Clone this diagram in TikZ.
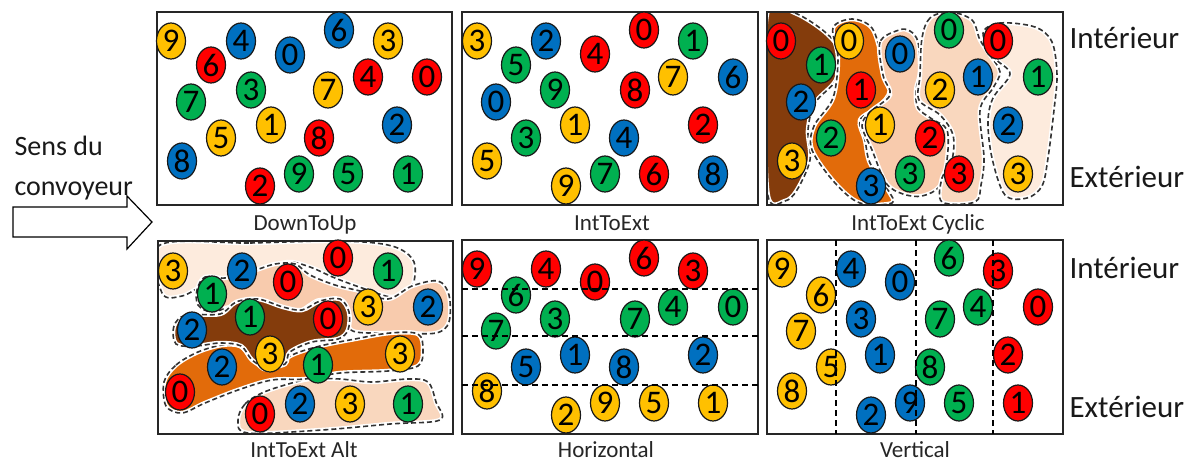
\documentclass[tikz,border=0pt]{standalone}
\usepackage{fontspec}
\setmainfont{Carlito}
\usetikzlibrary{shapes.geometric}
\definecolor{cR}{HTML}{FF0000}
\definecolor{cG}{HTML}{00B050}
\definecolor{cB}{HTML}{0070C0}
\definecolor{cY}{HTML}{FFC000}
\definecolor{rDark}{HTML}{843C0C}
\definecolor{rOrange}{HTML}{E26B0A}
\definecolor{rPeach}{HTML}{F8CBAD}
\definecolor{rLight}{HTML}{F9D7BE}
\definecolor{rPale}{HTML}{FDEBDD}
\newcommand\myregion[2]{%
  \path[fill=#1, draw=white, line width=4.5pt] plot[smooth cycle, tension=0.55] coordinates {#2};
  \draw[regline] plot[smooth cycle, tension=0.55] coordinates {#2};}
\newcommand\myballs[2]{%
  \foreach \px/\py/\col/\dig [count=\i] in {#2}
    \node[ball, fill=c\col] (#1-\i) at (\px,\py) {\dig};}
\begin{document}
\begin{tikzpicture}[x=1pt,y=-1pt,
  ball/.style={ellipse, draw=black!90, line width=1.2pt, minimum width=29, minimum height=36, inner sep=0pt, font=\fontsize{33}{33}\selectfont},
  panel/.style={draw=black!85, line width=1.6pt},
  regline/.style={draw=black!80, line width=1.6pt, dash pattern=on 5pt off 3pt},
  sep/.style={draw=black, line width=1.3pt, dash pattern=on 6pt off 4pt},
  plabel/.style={anchor=base, font=\fontsize{23}{23}\selectfont, text=black!85},
  side/.style={anchor=base west, font=\fontsize{31}{31}\selectfont, text=black!90},
  conv/.style={anchor=base west, font=\fontsize{28}{28}\selectfont, text=black!90}]
\useasboundingbox (0,0) rectangle (1189,461);

% conveyor text and arrow
\node[conv] (t1) at (11,155) {Sens du};
\node[conv] (t2) at (11,195) {convoyeur};
\draw[line width=1.2pt, fill=white] (13,207) -- (127,207) -- (127,196) -- (152,222) -- (127,249) -- (127,237) -- (13,237) -- cycle;

% side labels
\node[side] (i1) at (1066,48) {Intérieur};
\node[side] (e1) at (1066,187) {Extérieur};
\node[side] (i2) at (1066,278) {Intérieur};
\node[side] (e2) at (1066,417) {Extérieur};

% ---------- Panel 1: DownToUp
\draw[panel] (157,12) rectangle (452,205);
\myballs{a}{171/41/Y/9, 211/65/R/6, 241/41/B/4, 290/55/B/0, 339/30/B/6, 388/41/Y/3, 191/102/G/7, 251/90/G/3, 328/90/Y/7, 368/77/R/4, 427/77/R/0, 221/138/Y/5, 271/125/Y/1, 319/138/R/8, 397/125/B/2, 182/161/B/8, 260/186/R/2, 299/174/G/9, 348/174/G/5, 408/174/G/1}
\node[plabel] (l1) at (305,230) {DownToUp};

% ---------- Panel 2: IntToExt
\draw[panel] (462,12) rectangle (758,205);
\myballs{b}{477/41/Y/3, 546/41/B/2, 595/54/R/4, 644/30/R/0, 693/41/G/1, 516/65/G/5, 555/90/G/9, 635/90/R/8, 673/77/Y/7, 733/77/B/6, 496/102/B/0, 575/125/Y/1, 624/138/B/4, 703/125/R/2, 526/138/G/3, 487/161/Y/5, 566/186/Y/9, 605/174/G/7, 654/174/R/6, 713/174/B/8}
\node[plabel] (l2) at (612,230) {IntToExt};

% ---------- Panel 3: IntToExt Cyclic
\begin{scope}
\clip (767,12) rectangle (1063,205);
\myregion{rDark}{(768,10) (795,13) (825,32) (840,52) (836,80) (815,103) (808,130) (810,160) (797,190) (785,201) (768,196) (765,100)}
\myregion{rOrange}{(852,19) (833,28) (838,58) (833,98) (814,126) (812,150) (835,183) (860,203) (892,203) (888,190) (870,163) (865,140) (860,120) (878,107) (890,90) (882,58) (872,28)}
\myregion{rPeach}{(899,30) (880,42) (883,75) (890,95) (870,112) (862,126) (872,150) (886,183) (903,194) (922,196) (940,186) (947,160) (947,130) (932,119) (918,108) (916,90) (920,72) (918,42) (910,31)}
\myregion{rLight}{(950,12) (930,18) (922,38) (920,75) (919,100) (940,115) (953,135) (952,160) (942,178) (942,202) (975,202) (981,185) (984,158) (980,110) (993,88) (1000,72) (990,55) (980,40) (972,20)}
\myregion{rPale}{(1000,23) (983,33) (995,58) (1010,74) (993,98) (988,122) (992,158) (1005,195) (1027,198) (1042,186) (1048,158) (1054,110) (1057,75) (1052,42) (1035,27)}
\end{scope}
\draw[panel] (767,12) rectangle (1063,205);
\myballs{c}{781/41/R/0, 821/65/G/1, 801/102/B/2, 792/161/Y/3, 849/41/Y/0, 861/90/R/1, 831/138/G/2, 871/186/B/3, 900/54/B/0, 880/125/Y/1, 930/138/R/2, 910/174/G/3, 949/30/G/0, 940/90/Y/2, 978/77/B/1, 959/174/R/3, 998/41/R/0, 1038/77/G/1, 1008/125/B/2, 1018/174/Y/3}
\node[plabel] (l3) at (918,230) {IntToExt Cyclic};

% ---------- Panel 4: IntToExt Alt
\begin{scope}
\clip (158,241) rectangle (453,434);
\myregion{rPale}{(160,245) (250,243) (340,241) (392,246) (414,262) (411,290) (392,297) (365,289) (335,278) (310,267) (288,262) (262,270) (235,279) (205,285) (182,296) (162,293)}
\myregion{rPeach}{(197,290) (205,277) (225,278) (250,272) (275,264) (295,264) (310,275) (335,285) (360,291) (388,299) (412,286) (438,281) (449,295) (449,322) (436,333) (400,333) (356,332) (346,322) (340,308) (320,300) (295,313) (262,309) (235,306) (212,312) (198,305)}
\myregion{rLight}{(238,420) (245,404) (262,393) (285,385) (310,379) (340,379) (372,382) (408,379) (428,382) (436,402) (440,420) (390,424) (322,430) (248,433)}
\myregion{rOrange}{(164,382) (176,365) (198,352) (222,345) (240,346) (252,358) (268,370) (292,355) (320,346) (355,339) (390,333) (418,334) (423,350) (418,366) (388,371) (340,373) (305,379) (272,380) (238,390) (205,403) (182,413) (166,406)}
\myregion{rDark}{(174,326) (186,315) (220,314) (236,302) (258,299) (283,307) (302,310) (320,301) (340,299) (349,312) (348,330) (338,339) (312,342) (290,352) (285,364) (266,367) (252,360) (241,346) (220,343) (196,346) (176,344)}
\end{scope}
\draw[panel] (158,241) rectangle (453,434);
\myballs{d}{173/271/Y/3, 242/271/B/2, 288/282/R/0, 338/258/R/0, 388/271/G/1, 212/294/G/1, 368/307/Y/3, 428/307/B/2, 192/330/B/2, 250/317/G/1, 328/319/R/0, 270/354/Y/3, 400/354/Y/3, 222/367/B/2, 318/365/G/1, 180/392/R/0, 260/414/R/0, 300/404/B/2, 350/404/Y/3, 408/404/G/1}
\node[plabel] (l4) at (304,457) {IntToExt Alt};

% ---------- Panel 5: Horizontal
\draw[panel] (462,240) rectangle (758,434);
\myballs{e}{477/269/R/9, 546/269/R/4, 595/282/R/0, 644/258/R/6, 693/271/R/3, 516/295/G/6, 555/319/G/3, 635/319/G/7, 673/307/G/4, 733/307/G/0, 496/331/G/7, 575/355/B/1, 526/367/B/5, 624/367/B/8, 703/355/B/2, 487/391/Y/8, 566/415/Y/2, 605/403/Y/9, 654/403/Y/5, 713/403/Y/1}
\draw[sep] (462,289) -- (758,289);
\draw[sep] (462,336) -- (758,336);
\draw[sep] (462,385) -- (758,385);
\node[plabel] (l5) at (606,457) {Horizontal};

% ---------- Panel 6: Vertical
\draw[panel] (767,240) rectangle (1063,434);
\myballs{f}{782/269/Y/9, 851/269/B/4, 900/282/B/0, 949/258/G/6, 998/271/R/3, 821/295/Y/6, 861/319/B/3, 940/319/G/7, 978/307/G/4, 1038/307/R/0, 801/331/Y/7, 880/355/B/1, 831/367/Y/5, 930/367/G/8, 1008/355/R/2, 792/391/Y/8, 871/415/B/2, 910/403/B/9, 959/403/G/5, 1018/403/R/1}
\draw[sep] (836,240) -- (836,434);
\draw[sep] (916,240) -- (916,434);
\draw[sep] (993,240) -- (993,434);
\node[plabel] (l6) at (915,457) {Vertical};
\end{tikzpicture}
\end{document}
